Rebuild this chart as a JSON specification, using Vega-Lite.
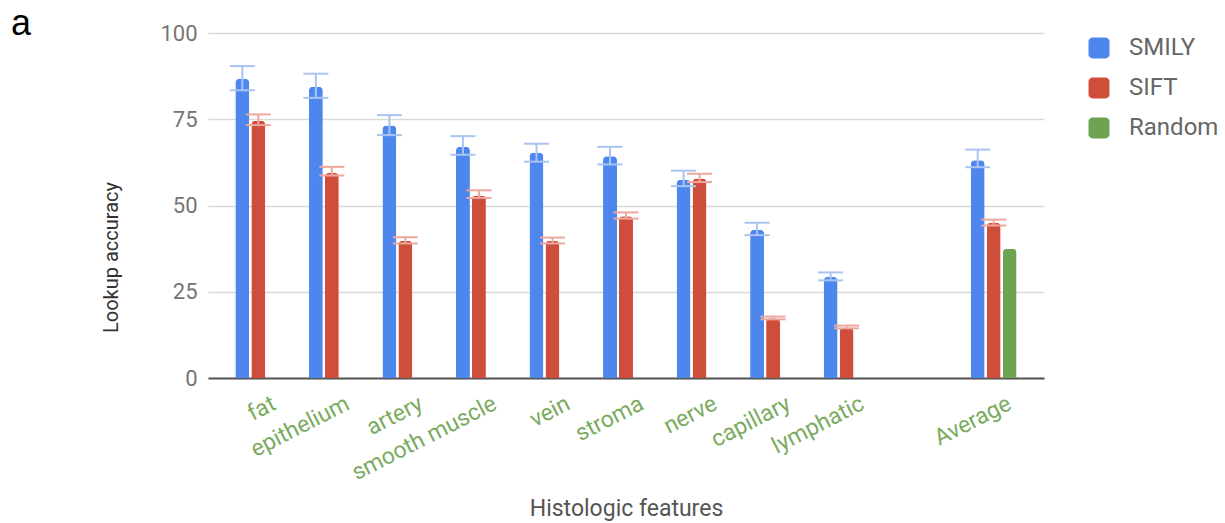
{
  "$schema": "https://vega.github.io/schema/vega-lite/v6.json",
  "width": 836,
  "height": 345,
  "autosize": {"type": "none"},
  "padding": {"left": 208, "top": 33, "right": 181, "bottom": 145},
  "background": "white",
  "title": {"text": "a", "anchor": "start", "frame": "group", "font": "Liberation Sans, Arial, sans-serif", "fontSize": 36, "fontWeight": "normal", "color": "#000000", "baseline": "alphabetic", "offset": 0, "dx": -197, "dy": 49},
  "data": {
    "values": [
      {"feature": "fat", "series": "SMILY", "value": 86.7, "lo": 83.4, "hi": 90.4},
      {"feature": "fat", "series": "SIFT", "value": 74.6, "lo": 73.3, "hi": 76.4},
      {"feature": "epithelium", "series": "SMILY", "value": 84.4, "lo": 81.2, "hi": 88.2},
      {"feature": "epithelium", "series": "SIFT", "value": 59.4, "lo": 58.7, "hi": 61.2},
      {"feature": "artery", "series": "SMILY", "value": 73.2, "lo": 70.4, "hi": 76.2},
      {"feature": "artery", "series": "SIFT", "value": 39.8, "lo": 39.0, "hi": 40.8},
      {"feature": "smooth muscle", "series": "SMILY", "value": 67.0, "lo": 64.7, "hi": 70.1},
      {"feature": "smooth muscle", "series": "SIFT", "value": 52.9, "lo": 52.2, "hi": 54.4},
      {"feature": "vein", "series": "SMILY", "value": 65.3, "lo": 62.7, "hi": 67.9},
      {"feature": "vein", "series": "SIFT", "value": 39.8, "lo": 39.0, "hi": 40.7},
      {"feature": "stroma", "series": "SMILY", "value": 64.3, "lo": 61.9, "hi": 67.0},
      {"feature": "stroma", "series": "SIFT", "value": 46.9, "lo": 46.2, "hi": 48.0},
      {"feature": "nerve", "series": "SMILY", "value": 57.5, "lo": 55.6, "hi": 60.1},
      {"feature": "nerve", "series": "SIFT", "value": 57.8, "lo": 56.8, "hi": 59.2},
      {"feature": "capillary", "series": "SMILY", "value": 43.0, "lo": 41.4, "hi": 45.0},
      {"feature": "capillary", "series": "SIFT", "value": 17.3, "lo": 17.0, "hi": 17.8},
      {"feature": "lymphatic", "series": "SMILY", "value": 29.3, "lo": 28.3, "hi": 30.6},
      {"feature": "lymphatic", "series": "SIFT", "value": 14.6, "lo": 14.4, "hi": 15.2},
      {"feature": "Average", "series": "SMILY", "value": 63.1, "lo": 61.1, "hi": 66.2},
      {"feature": "Average", "series": "SIFT", "value": 45.0, "lo": 44.2, "hi": 45.9},
      {"feature": "Average", "series": "Random", "value": 37.5}
    ]
  },
  "encoding": {
    "x": {
      "field": "feature",
      "type": "nominal",
      "scale": {
        "domain": ["fat", "epithelium", "artery", "smooth muscle", "vein", "stroma", "nerve", "capillary", "lymphatic", " ", "Average"],
        "paddingInner": 0.348,
        "paddingOuter": 0.358
      },
      "axis": {
        "title": "Histologic features",
        "grid": false,
        "ticks": false,
        "domainColor": "#555555",
        "domainWidth": 2,
        "labelAngle": -27,
        "labelAlign": "right",
        "labelBaseline": "top",
        "labelColor": "#7aab5e",
        "labelFont": "Roboto",
        "labelFontSize": 23,
        "labelPadding": 14,
        "labelOffset": 11,
        "titleFont": "Roboto",
        "titleFontSize": 23,
        "titleFontWeight": "normal",
        "titleColor": "#555555",
        "titleBaseline": "alphabetic",
        "titleY": 137
      }
    },
    "xOffset": {
      "field": "series",
      "type": "nominal",
      "scale": {"domain": ["SMILY", "SIFT", "Random"], "paddingInner": 0.125, "paddingOuter": 0.0625}
    }
  },
  "layer": [
    {
      "mark": {"type": "bar", "cornerRadiusTopLeft": 4, "cornerRadiusTopRight": 4},
      "encoding": {
        "y": {
          "field": "value",
          "type": "quantitative",
          "scale": {"domain": [0, 100], "nice": false},
          "axis": {
            "title": "Lookup accuracy",
            "values": [0, 25, 50, 75, 100],
            "domain": false,
            "ticks": false,
            "gridColor": "#d9d9d9",
            "gridWidth": 1.5,
            "labelColor": "#757575",
            "labelFont": "Roboto",
            "labelFontSize": 22,
            "labelPadding": 11,
            "titleFont": "Roboto",
            "titleFontSize": 20,
            "titleFontWeight": "normal",
            "titleColor": "#333333",
            "titlePadding": 38,
            "titleY": 224
          }
        },
        "color": {
          "field": "series",
          "type": "nominal",
          "scale": {"domain": ["SMILY", "SIFT", "Random"], "range": ["#4d87ee", "#cf4e3b", "#6fa354"]},
          "legend": {
            "orient": "none",
            "legendX": 879,
            "legendY": 3,
            "title": null,
            "symbolType": "M-1,-0.6A0.4,0.4 0 0 1 -0.6,-1L0.6,-1A0.4,0.4 0 0 1 1,-0.6L1,0.6A0.4,0.4 0 0 1 0.6,1L-0.6,1A0.4,0.4 0 0 1 -1,0.6Z",
            "symbolSize": 441,
            "symbolStrokeWidth": 0,
            "symbolOpacity": 1,
            "labelFont": "Roboto",
            "labelFontSize": 24,
            "labelColor": "#666666",
            "labelOffset": 18,
            "rowPadding": 16
          }
        }
      }
    },
    {
      "transform": [{"filter": "datum.lo != null"}],
      "mark": {"type": "rule", "strokeWidth": 2},
      "encoding": {
        "y": {"field": "lo", "type": "quantitative"},
        "y2": {"field": "hi"},
        "color": {
          "field": "series",
          "type": "nominal",
          "scale": {"domain": ["SMILY", "SIFT"], "range": ["#a9c4f2", "#eea79f"]},
          "legend": null
        }
      }
    },
    {
      "transform": [{"filter": "datum.lo != null"}],
      "mark": {"type": "tick", "thickness": 2, "size": 25},
      "encoding": {
        "y": {"field": "lo", "type": "quantitative"},
        "color": {
          "field": "series",
          "type": "nominal",
          "scale": {"domain": ["SMILY", "SIFT"], "range": ["#a9c4f2", "#eea79f"]},
          "legend": null
        }
      }
    },
    {
      "transform": [{"filter": "datum.lo != null"}],
      "mark": {"type": "tick", "thickness": 2, "size": 25},
      "encoding": {
        "y": {"field": "hi", "type": "quantitative"},
        "color": {
          "field": "series",
          "type": "nominal",
          "scale": {"domain": ["SMILY", "SIFT"], "range": ["#a9c4f2", "#eea79f"]},
          "legend": null
        }
      }
    }
  ],
  "resolve": {"scale": {"color": "independent"}},
  "config": {"view": {"stroke": null}, "font": "Roboto", "tick": {"opacity": 1}}
}
